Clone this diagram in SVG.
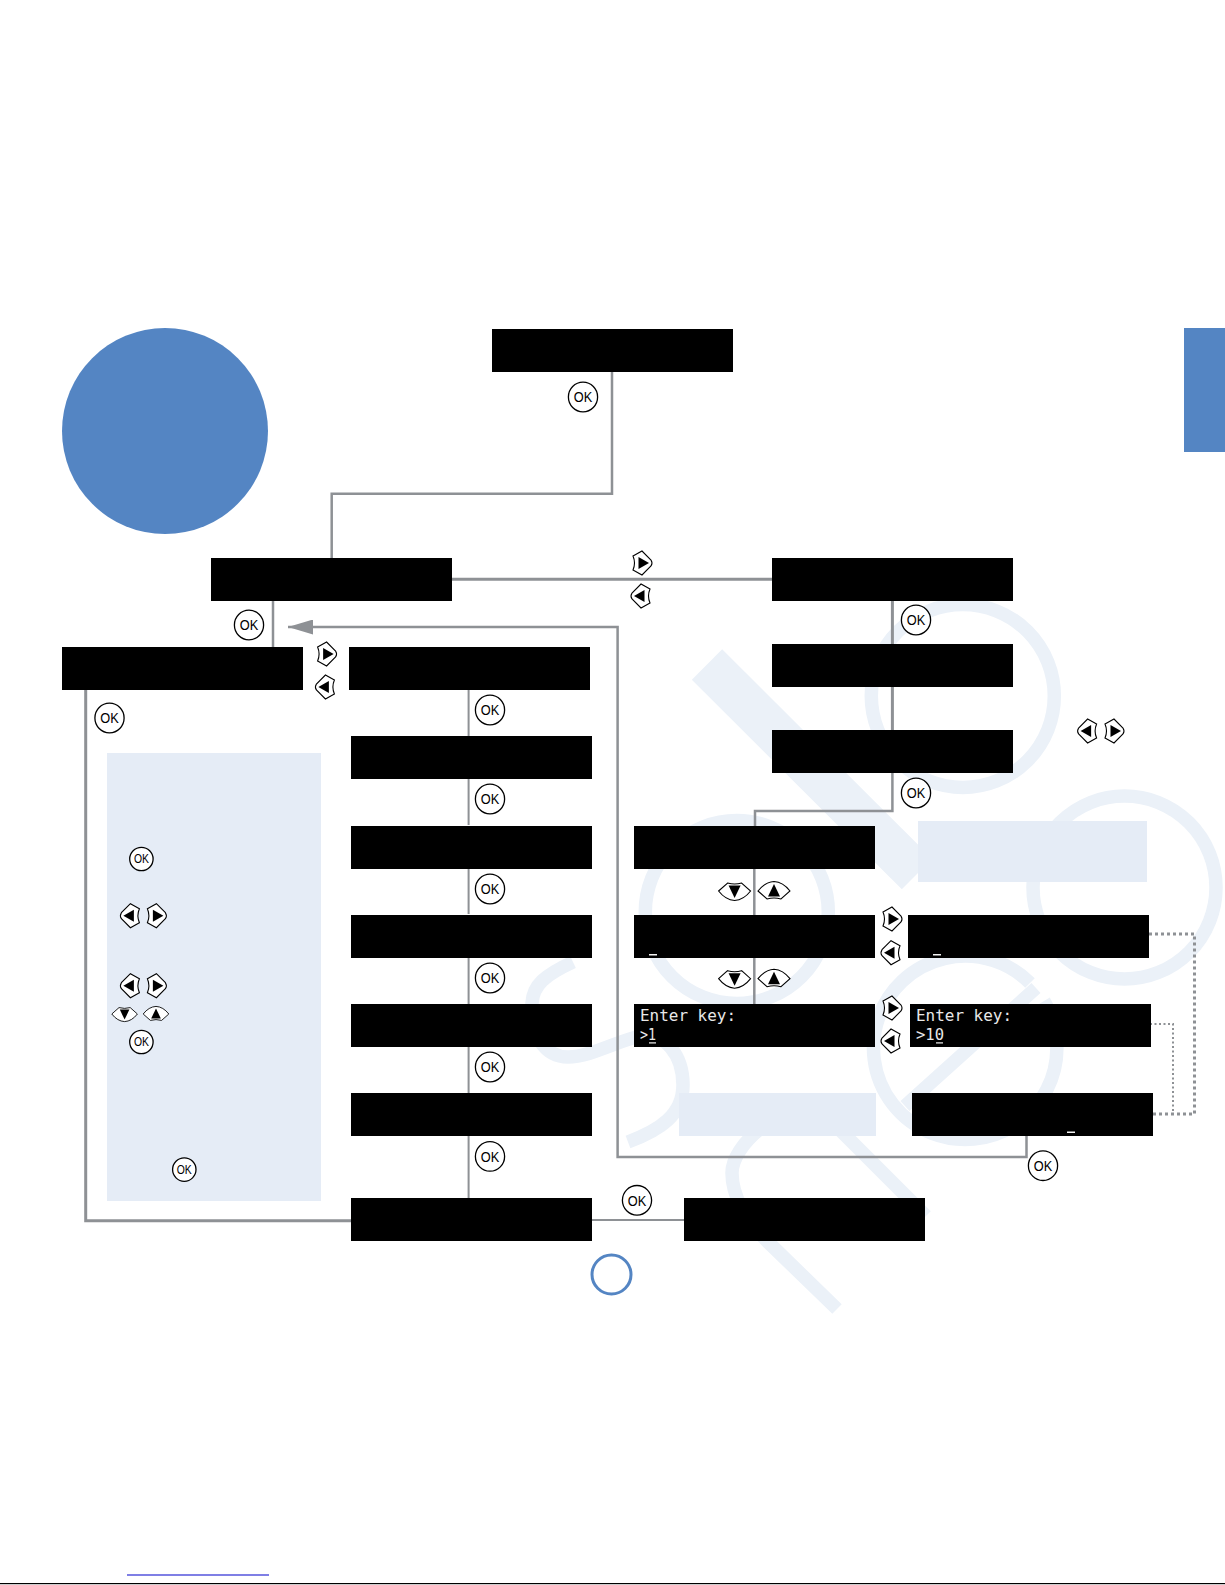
<svg xmlns="http://www.w3.org/2000/svg" width="1225" height="1585" viewBox="0 0 1225 1585">
<style>
.b{fill:#000}
.p{fill:#e5ecf6}
.wm{fill:none;stroke:#ebf1f8;stroke-width:13.5}
.w{fill:none;stroke:#8e9195;stroke-width:2.5}
.t{stroke-width:2}
.d{fill:none;stroke:#8e9195}
.ok{fill:#fff;stroke:#000;stroke-width:1.3}
.okt{font-family:"Liberation Sans",Arial,sans-serif;font-size:15px;text-anchor:middle;fill:#000}
.oks{font-size:12px}
.k{fill:#fff;stroke:#000;stroke-width:1.1}
.lcd{font-family:"DejaVu Sans Mono","Liberation Mono",monospace;font-size:16.3px;fill:#e8e8e8}
.u{fill:#f2f2f2}
</style>
<defs>
<g id="kr"><path class="k" d="M-9,-7 L0,-12 L9,-3 Q11,0 9,3 L0,12 L-9,7 Q-6,0 -9,-7 Z"/><path d="M-3.5,-6 L7,0 L-3.5,6 Z"/></g>
<g id="kl"><path class="k" d="M9,-7 L0,-12 L-9,-3 Q-11,0 -9,3 L0,12 L9,7 Q6,0 9,-7 Z"/><path d="M3.5,-6 L-7,0 L3.5,6 Z"/></g>
<g id="kd"><path class="k" d="M-16,0 L-7,-8 Q0,-6 7,-8 L16,0 Q9,9 0,9.5 Q-9,9 -16,0 Z"/><path d="M-6,-5.5 L6,-5.5 L0,7 Z"/></g>
<g id="ku"><path class="k" d="M-16,0 L-7,8 Q0,6 7,8 L16,0 Q9,-9 0,-9.5 Q-9,-9 -16,0 Z"/><path d="M-6,5.5 L6,5.5 L0,-7 Z"/></g>
<marker id="ah" markerUnits="userSpaceOnUse" markerWidth="26" markerHeight="15" refX="25" refY="7.5" orient="auto"><path d="M0,0 L25,7.5 L0,15 Z" fill="#8e9195"/></marker>
</defs>
<rect width="1225" height="1585" fill="#fff"/>

<g id="watermark">
<circle class="wm" cx="962.8" cy="696" r="91.5"/>
<circle class="wm" cx="736.8" cy="912" r="91.5"/>
<circle class="wm" cx="1124.5" cy="887.5" r="91.5"/>
<path class="wm" d="M1030,983 A91.7,91.7 0 1 0 1044,1001"/>
<path class="wm" d="M1036,988 L905,1106"/>
<path class="wm" style="stroke-width:43" d="M707,664.5 L917,874"/>
<path class="wm" d="M573,962 C545,975 533,985 532,1003 C530,1035 545,1057 568,1057 C590,1057 620,1040 640,1036 C665,1032 683,1055 683,1085 C683,1115 660,1130 628,1142"/>
<path class="wm" d="M765,1125 C742,1142 732,1160 732,1173 C732,1195 745,1220 768,1242 L837,1309"/>
<path class="wm" d="M838,1128 L926,1216"/>
</g>

<g id="page-marks">
<circle cx="165" cy="431" r="103" fill="#5485c3"/>
<rect x="1184" y="328" width="41" height="124" fill="#5485c3"/>
<circle cx="611.5" cy="1274.5" r="19.5" fill="#fff" stroke="#5485c3" stroke-width="3"/>
<rect x="127" y="1574.5" width="142" height="1" fill="#0000cc"/>
<rect x="0" y="1583" width="1225" height="1.2" fill="#000"/>
</g>

<g id="panels">
<rect class="p" x="107" y="753" width="214" height="448"/>
<rect class="p" x="918" y="821" width="229" height="61"/>
<rect class="p" x="679" y="1093" width="197" height="43"/>
</g>

<g id="connectors">
<path class="w" d="M612,372 V493.7 H331.7 V558"/>
<path class="w" style="stroke-width:3" d="M452,579.3 H772"/>
<path class="w" d="M273,600 V647"/>
<path class="w" d="M1026.5,1136 V1157 H617.6 V627 H288" marker-end="url(#ah)"/>
<path class="w" style="stroke-width:3" d="M85.7,690 V1220.7 H351"/>
<path class="w t" d="M592,1220 H684"/>
<path class="w t" d="M468.6,690 V736 M468.6,779 V825 M468.6,868 V914 M468.6,957 V1004 M468.6,1047 V1093 M468.6,1136 V1198"/>
<path class="w" style="stroke-width:3" d="M892.4,600 V730"/>
<path class="w" d="M892.4,773 V811 H755 V826"/>
<path class="w" d="M754.3,868 V1004"/>
<path class="d" stroke-width="3" stroke-dasharray="3 3" d="M1143,934 H1194.5 V1114 H1153"/>
<path class="d" stroke-width="2" stroke-dasharray="2 2.5" d="M1145.5,1024 H1173 V1114"/>
</g>

<g id="n-top"><rect class="b" x="492" y="329" width="241" height="43"/></g>
<g id="n-a"><rect class="b" x="211" y="558" width="241" height="43"/></g>
<g id="n-b"><rect class="b" x="62" y="647" width="241" height="43"/></g>
<g id="n-c"><rect class="b" x="349" y="647" width="241" height="43"/></g>
<g id="n-d"><rect class="b" x="351" y="736" width="241" height="43"/></g>
<g id="n-e"><rect class="b" x="351" y="826" width="241" height="43"/></g>
<g id="n-f"><rect class="b" x="351" y="915" width="241" height="43"/></g>
<g id="n-g"><rect class="b" x="351" y="1004" width="241" height="43"/></g>
<g id="n-h"><rect class="b" x="351" y="1093" width="241" height="43"/></g>
<g id="n-i"><rect class="b" x="351" y="1198" width="241" height="43"/></g>
<g id="n-r1"><rect class="b" x="772" y="558" width="241" height="43"/></g>
<g id="n-r2"><rect class="b" x="772" y="644" width="241" height="43"/></g>
<g id="n-r3"><rect class="b" x="772" y="730" width="241" height="43"/></g>
<g id="n-s1"><rect class="b" x="634" y="826" width="241" height="43"/></g>
<g id="n-s2"><rect class="b" x="634" y="915" width="241" height="43"/><rect class="u" x="649" y="954" width="8" height="1.5"/></g>
<g id="n-s3"><rect class="b" x="634" y="1004" width="241" height="43"/><text class="lcd" x="640" y="1021" textLength="96" lengthAdjust="spacingAndGlyphs">Enter key:</text><text class="lcd" x="640" y="1040" textLength="16" lengthAdjust="spacingAndGlyphs">&gt;1</text><rect class="u" x="649" y="1042.3" width="7" height="1.2"/></g>
<g id="n-t1"><rect class="b" x="908" y="915" width="241" height="43"/><rect class="u" x="933" y="954" width="8" height="1.5"/></g>
<g id="n-t2"><rect class="b" x="910" y="1004" width="241" height="43"/><text class="lcd" x="916" y="1021" textLength="96" lengthAdjust="spacingAndGlyphs">Enter key:</text><text class="lcd" x="916" y="1040" textLength="28" lengthAdjust="spacingAndGlyphs">&gt;10</text><rect class="u" x="936" y="1042.3" width="7" height="1.2"/></g>
<g id="n-t3"><rect class="b" x="912" y="1093" width="241" height="43"/><rect class="u" x="1067" y="1131.5" width="8" height="1.5"/></g>
<g id="n-u"><rect class="b" x="684" y="1198" width="241" height="43"/></g>

<g id="ok-1" transform="translate(583,397)"><ellipse class="ok" rx="14.6" ry="14.8"/><text class="okt" y="5.4" textLength="18.5" lengthAdjust="spacingAndGlyphs">OK</text></g>
<g id="ok-2" transform="translate(249,625)"><ellipse class="ok" rx="14.6" ry="14.8"/><text class="okt" y="5.4" textLength="18.5" lengthAdjust="spacingAndGlyphs">OK</text></g>
<g id="ok-3" transform="translate(109.5,718)"><ellipse class="ok" rx="14.6" ry="14.8"/><text class="okt" y="5.4" textLength="18.5" lengthAdjust="spacingAndGlyphs">OK</text></g>
<g id="ok-4" transform="translate(490,710)"><ellipse class="ok" rx="14.6" ry="14.8"/><text class="okt" y="5.4" textLength="18.5" lengthAdjust="spacingAndGlyphs">OK</text></g>
<g id="ok-5" transform="translate(490,799)"><ellipse class="ok" rx="14.6" ry="14.8"/><text class="okt" y="5.4" textLength="18.5" lengthAdjust="spacingAndGlyphs">OK</text></g>
<g id="ok-6" transform="translate(490,889)"><ellipse class="ok" rx="14.6" ry="14.8"/><text class="okt" y="5.4" textLength="18.5" lengthAdjust="spacingAndGlyphs">OK</text></g>
<g id="ok-7" transform="translate(490,978)"><ellipse class="ok" rx="14.6" ry="14.8"/><text class="okt" y="5.4" textLength="18.5" lengthAdjust="spacingAndGlyphs">OK</text></g>
<g id="ok-8" transform="translate(490,1067)"><ellipse class="ok" rx="14.6" ry="14.8"/><text class="okt" y="5.4" textLength="18.5" lengthAdjust="spacingAndGlyphs">OK</text></g>
<g id="ok-9" transform="translate(490,1156.4)"><ellipse class="ok" rx="14.6" ry="14.8"/><text class="okt" y="5.4" textLength="18.5" lengthAdjust="spacingAndGlyphs">OK</text></g>
<g id="ok-10" transform="translate(916,620)"><ellipse class="ok" rx="14.6" ry="14.8"/><text class="okt" y="5.4" textLength="18.5" lengthAdjust="spacingAndGlyphs">OK</text></g>
<g id="ok-11" transform="translate(916,793)"><ellipse class="ok" rx="14.6" ry="14.8"/><text class="okt" y="5.4" textLength="18.5" lengthAdjust="spacingAndGlyphs">OK</text></g>
<g id="ok-12" transform="translate(1043,1165.7)"><ellipse class="ok" rx="14.6" ry="14.8"/><text class="okt" y="5.4" textLength="18.5" lengthAdjust="spacingAndGlyphs">OK</text></g>
<g id="ok-13" transform="translate(637,1200.3)"><ellipse class="ok" rx="14.6" ry="14.8"/><text class="okt" y="5.4" textLength="18.5" lengthAdjust="spacingAndGlyphs">OK</text></g>
<g id="ok-p1" transform="translate(141.4,859)"><ellipse class="ok" rx="11.7" ry="11.7"/><text class="okt oks" y="4.3" textLength="15" lengthAdjust="spacingAndGlyphs">OK</text></g>
<g id="ok-p2" transform="translate(141.4,1042)"><ellipse class="ok" rx="11.7" ry="11.7"/><text class="okt oks" y="4.3" textLength="15" lengthAdjust="spacingAndGlyphs">OK</text></g>
<g id="ok-p3" transform="translate(184.3,1169.6)"><ellipse class="ok" rx="11.7" ry="11.7"/><text class="okt oks" y="4.3" textLength="15" lengthAdjust="spacingAndGlyphs">OK</text></g>

<g id="keys">
<use href="#kr" x="326.6" y="654"/><use href="#kl" x="325.4" y="687"/>
<use href="#kr" x="642" y="563"/><use href="#kl" x="641" y="596"/>
<use href="#kl" x="1087.6" y="731"/><use href="#kr" x="1114" y="731"/>
<use href="#kd" x="734.6" y="891"/><use href="#ku" x="774" y="891"/>
<use href="#kd" x="734.6" y="978.7"/><use href="#ku" x="774" y="978.7"/>
<use href="#kr" x="892" y="919"/><use href="#kl" x="891" y="952.7"/>
<use href="#kr" x="892" y="1008"/><use href="#kl" x="891" y="1041"/>
<use href="#kl" x="130.4" y="915.7"/><use href="#kr" x="156.4" y="915.7"/>
<use href="#kl" x="130.4" y="985.7"/><use href="#kr" x="156.4" y="985.7"/>
<use href="#kd" transform="translate(124.6,1014) scale(.8)"/><use href="#ku" transform="translate(156,1014) scale(.8)"/>
</g>
</svg>
